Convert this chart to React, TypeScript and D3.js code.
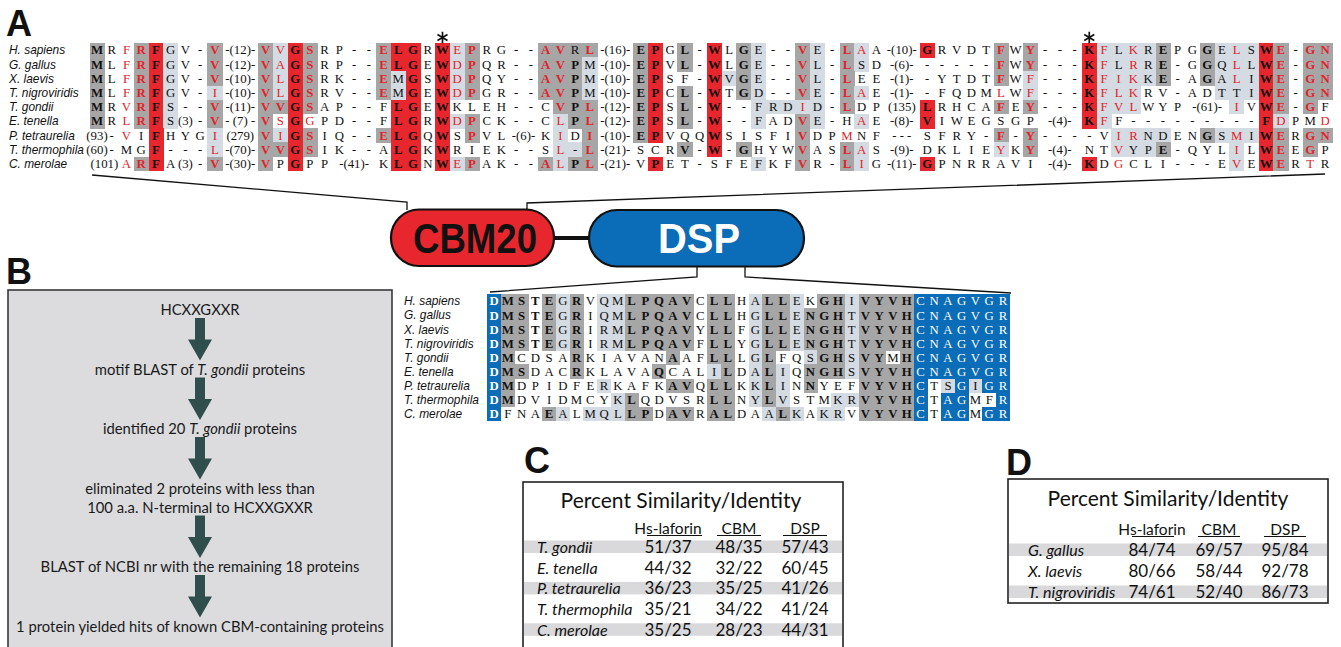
import React from "react";
import * as d3 from "d3";

// colours picked off the figure
const RED = "#e8262d";
const RED_TXT = "#e2232a";
const DARK = "#a6a6a6";
const LIGHT = "#d4dbe3";
const BLUE = "#0b6cb7";
const STRIPE = "#d9d9dc";
const ARROW = "#2f4e4c";

const SERIF = "'Liberation Serif', 'Times New Roman', serif";
const SANS = "'Liberation Sans', Arial, sans-serif";
const MYRIAD = "Lato, 'Open Sans', sans-serif";

const species = [
  "H. sapiens",
  "G. gallus",
  "X. laevis",
  "T. nigroviridis",
  "T. gondii",
  "E. tenella",
  "P. tetraurelia",
  "T. thermophila",
  "C. merolae",
];

// token[:bg fg span]  bg: . none, g dark, l light, r red, b blue ; fg: k/K black, r/R red, w/W white (caps = bold)
const cbmRows = [
  "M:gK R F:.r R:gR F:rK G:lk V - V:gR -(12)- V:gR V:lr G:rK S:gR R P - - E:gR L:rK G:rK R W:rK E:lr P:gR R G - - A:gR V:gR R:gk L:gR -(16)- E:gK P:rK G L:gK - W:rK L G:gK E:lk - - V:gR E:lk - L:gR A:lr A -(10)- G:rK R V D T F:gR W Y:gR - - - K:rK F:lr L:lk K:lr R:lk E:gK P G G:gK E:lk L:lr S:lk W:rK E:gR - G:gR N:gR",
  "M:gK L F:.r R:gR F:rK G:lk V - V:gR -(12)- V:gR A:lr G:rK S:gR R P - - E:gR L:rK G:rK E W:rK D:lr P:gR Q R - - A:gR V:gR P:gK M:lk -(10)- E:gK P:rK V L:gK - W:rK L G:gK E:lk - - V:gR L:lk - L:gR S:lk D -(6)- - - - - - F:gR W Y:gR - - - K:rK F:lr L:lk R:lr R:lk E:gK - G G:gK Q:lk L:lr L:lk W:rK E:gR - G:gR N:gR",
  "M:gK L F:.r R:gR F:rK G:lk V - V:gR -(10)- V:gR L:lr G:rK S:gR R K - - E:gR M:lk G:rK S W:rK D:lr P:gR Q Y - - A:gR V:gR P:gK M:lk -(10)- E:gK P:rK S F - W:rK V:lk G:gK E:lk - - V:gR L:lk - L:gR E E -(1)- - Y T D T F:gR W F:lr - - - K:rK F:lr I:lr K:lr K:lk E:gK - A G:gK A:lk L:lr I:lk W:rK E:gR - G:gR N:gR",
  "M:gK L F:.r R:gR F:rK G:lk V - I:lr -(10)- V:gR L:lr G:rK S:gR R V - - E:gR M:lk G:rK E W:rK D:lr P:gR G R - - A:gR V:gR P:gK M:lk -(10)- E:gK P:rK C L:gK - W:rK T G:gK D:lk - - V:gR E:lk - L:gR A:lr E -(1)- - F Q D M L:.r W F:lr - - - K:rK F:lr L:lr K:lr R V - A D T:lk T:lk I:lk W:rK E:gR - G:gR N:gR",
  "M:gK R V:.r R:gR F:rK S:lk - - V:gR -(11)- V:gR V:gR G:rK S:gR A P - - F L:rK G:rK E W:rK K L E H - - C V:gR P:gK L:gR -(12)- E:gK P:rK S L:gK - W:rK - - F:lk R:lk D:lk I:lr D:lk - L:gR D P (135) L:rK R H C A F:gR E Y:gR - - - K:rK F:lr V:lr L:lr W Y P -(61)-:.k3 I:lr V W:rK E:gR - G:gR F",
  "M:gK R L:.r R:gR F:rK S:lk (3) - V:gR -_(7)_- V:gR S:.r G:rK G:.r P D - - F L:rK G:rK R W:rK D:lr P:gR C K - - C L:lr P:gK L:gR -(12)- E:gK P:rK S L:gK - W:rK - - F:lk A D V:gR E:lk - H A:lr E -(8)- V:rK I W E G S G P -(4)-:.k3 K:rK F:lr F - - - - - - - - - F:rK D:lr P M D:.r",
  "(93) - V:.r I F:rK H Y G I:lr (279) V:gR I:lr G:rK S:gR I Q - - E:gR L:rK G:rK Q W:rK S P:gR V L -(6)-:.k2 K I:lr D I:gR -(10)- E:gK P:rK V Q Q W:rK S I S F I V:gR D P M:.r N F -_-_- S F R Y - F:gR - Y:gR - - - - V I:lr R:lr N:lk D:lk E N G:gK S:lk M:lr I:lk W:rK E:gR R G:gR N:gR",
  "(60) - M G F:rK - - - L:lr -(70)- V:gR V:gR G:rK S:gR I K - - A L:rK G:rK K W:rK R I E K - - S L:lr -:lk L:gR -(21)- S C R V:gK - W:rK - G:gK H Y W V:gR A S L:gR A:lr S -(9)- D K L I E Y:lr K Y:gR -(4)-:.k3 N T V:lr Y:lk P:lk E:gK - Q Y L I:lr L W:rK E:gR E G:gR P",
  "(101):.k2 A:.r R:gR F:rK A (3) - V:gR -(30)- V:gR P G:rK P P -(41)-:.k3 K L:rK G:rK N W:rK E:lr P:gR A K - - A:gR L:lr P:gK L:gR -(21)- V P:rK E T - S F E F:lk K F V:gR R - L:gR I:lr G -(11)- G:rK P N R R A V I -(4)-:.k3 K:rK D G:.r C L I - - - E V:lr E W:rK E:gR R T:.r R",
];
const cbmCols = 80;
const cbmWideCols = [9, 33, 51];
const cbmStarCols = [22, 63];

const dspRows = [
  "D:bW M:gK S:gK T:.K E:gK G:lk R:gK V Q:lk M:lk L:gK P:gK Q:gK A:gK V:gK C L:gK L:gK H A:lk L:gK L:gK E:lk K G:gK H:gK I:lk V:gK Y:gK V:gK H:gK C:bw N:bw A:bw G:bw V:bw G:bw R:bw",
  "D:bW M:gK S:gK T:.K E:gK G:lk R:gK I Q:lk M:lk L:gK P:gK Q:gK A:gK V:gK C L:gK L:gK H G:lk L:gK L:gK E:lk N:gK G:gK H:gK T:lk V:gK Y:gK V:gK H:gK C:bw N:bw A:bw G:bw V:bw G:bw R:bw",
  "D:bW M:gK S:gK T:.K E:gK G:lk R:gK I R:lk M:lk L:gK P:gK Q:gK A:gK V:gK Y L:gK L:gK F G:lk L:gK L:gK E:lk N:gK G:gK H:gK T:lk V:gK Y:gK V:gK H:gK C:bw N:bw A:bw G:bw V:bw G:bw R:bw",
  "D:bW M:gK S:gK T:.K E:gK G:lk R:gK I R:lk M:lk L:gK P:gK Q:gK A:gK V:gK F L:gK L:gK Y G:lk L:gK L:gK E:lk N:gK G:gK H:gK T:lk V:gK Y:gK V:gK H:gK C:bw N:bw A:bw G:bw V:bw G:bw R:bw",
  "D:bW M:gK C D S A R:gK K I A V A N A:gK A F L:gK L:gK L G:lk L:gK F Q S:lk G:gK H:gK S:lk V:gK Y:gK M H:gK C:bw N:bw A:bw G:bw V:bw G:bw R:bw",
  "D:bW M:gK S:gK D A C R:gK K L A V A Q:gK C A L I:lk L:gK D A:lk L:gK I:lk Q N:gK G:gK H:gK S:lk V:gK Y:gK V:gK H:gK C:bw N:bw A:bw G:bw V:bw G:bw R:bw",
  "D:bW M:gK D P I D F E R:lk K A F K A:gK V:gK Q L:gK L:gK K K:lk L:gK I:lk N N:gK Y E F V:gK Y:gK V:gK H:gK C:bw T S:lk G:bw I:lk G:bw R:bw",
  "D:bW M:gK D V I D M C Y K:lk L:gK Q D V S R L:gK L:gK N Y:lk L:gK V:lk S T M K:lk R:lk V:gK Y:gK V:gK H:gK C:bw T A:bw G:bw M F R:bw",
  "D:bW F N A E:gK A:lk L M:lk Q:lk L:lk L:gK P:gK D A:gK V:gK R A:gK L:gK D A A:lk L:gK K:lk A K:lk R:lk V V:gK Y:gK V:gK H:gK C:bw T A:bw G:bw M G:bw R:bw",
];
const dspCols = 38;

// panel B flow chart (*...* = italic)
const flowSteps = [
  ["HCXXGXXR"],
  ["motif BLAST of *T. gondii* proteins"],
  ["identified 20 *T. gondii* proteins"],
  ["eliminated 2 proteins with less than", "100 a.a. N-terminal to HCXXGXXR"],
  ["BLAST of NCBI nr with the remaining 18 proteins"],
  ["1 protein yielded hits of known CBM-containing proteins"],
];

// panel C
const cSpecies = ["T. gondii", "E. tenella", "P. tetraurelia", "T. thermophila", "C. merolae"];
const cLaforin = ["51/37", "44/32", "36/23", "35/21", "35/25"];
const cCbm = ["48/35", "32/22", "35/25", "34/22", "28/23"];
const cDsp = ["57/43", "60/45", "41/26", "41/24", "44/31"];

// panel D
const dSpecies = ["G. gallus", "X. laevis", "T. nigroviridis"];
const dLaforin = ["84/74", "80/66", "74/61"];
const dCbm = ["69/57", "58/44", "52/40"];
const dDsp = ["95/84", "92/78", "86/73"];

const headers = ["Hs-laforin", "CBM", "DSP"];

type Cell = { text: string; bg: string; fg: string; col: number; span: number };

function parseRow(row: string): Cell[] {
  let col = 0;
  return row
    .trim()
    .split(/\s+/)
    .map((tok) => {
      const i = tok.lastIndexOf(":");
      const text = (i < 0 ? tok : tok.slice(0, i)).replace(/_/g, " ");
      const code = i < 0 ? ".k" : tok.slice(i + 1);
      const span = code.length > 2 ? +code[2] : 1;
      const cell = { text, bg: code[0], fg: code[1], col, span };
      col += span;
      return cell;
    });
}

const bgFill: Record<string, string> = { g: DARK, l: LIGHT, r: RED, b: BLUE };
const fgFill = (fg: string) => {
  const f = fg.toLowerCase();
  return f === "r" ? RED_TXT : f === "w" ? "#fff" : "#111";
};

// six-armed asterisk used to flag conserved residues
const starPath = (cx: number, cy: number, r: number) =>
  [90, 30, -30]
    .map((deg) => {
      const a = (deg * Math.PI) / 180;
      const dx = r * Math.cos(a);
      const dy = r * Math.sin(a);
      return `M${cx - dx},${cy - dy}L${cx + dx},${cy + dy}`;
    })
    .join("");

function Alignment(props: {
  rows: string[];
  nCols: number;
  wide: number[];
  wideW: number;
  xFirst: number;
  xLast: number;
  yFirst: number;
  rowH: number;
  nameX: number;
  stars?: number[];
}) {
  const { rows, nCols, wide, wideW, xFirst, xLast, yFirst, rowH, nameX, stars = [] } = props;
  const edges = [0];
  for (let c = 0; c < nCols; c++) edges.push(edges[c] + (wide.includes(c) ? wideW : 1));
  const x = d3
    .scaleLinear()
    .domain([(edges[0] + edges[1]) / 2, (edges[nCols - 1] + edges[nCols]) / 2])
    .range([xFirst, xLast]);
  const y = d3.scaleLinear().domain([0, 1]).range([yFirst, yFirst + rowH]);
  const parsed = rows.map(parseRow);

  return (
    <g>
      {species.map((s, i) => (
        <text key={s} x={nameX} y={y(i) + 4.3} fontFamily={SANS} fontStyle="italic" fontSize={11.9} fill="#111">
          {s}
        </text>
      ))}
      <g shapeRendering="crispEdges">
        {parsed.map((cells, r) =>
          cells
            .filter((c) => c.bg !== ".")
            .map((c) => (
              <rect
                key={`${r}-${c.col}`}
                x={x(edges[c.col])}
                y={y(r) - rowH / 2}
                width={x(edges[c.col + c.span]) - x(edges[c.col]) + 0.4}
                height={rowH + 0.4}
                fill={bgFill[c.bg]}
              />
            ))
        )}
      </g>
      {parsed.map((cells, r) =>
        cells.map((c) => (
          <text
            key={`t${r}-${c.col}`}
            x={(x(edges[c.col]) + x(edges[c.col + c.span])) / 2}
            y={y(r) + 4.4}
            textAnchor="middle"
            fontFamily={SERIF}
            fontSize={12.8}
            fontWeight={c.fg === c.fg.toUpperCase() ? "bold" : "normal"}
            fill={fgFill(c.fg)}
          >
            {c.text}
          </text>
        ))
      )}
      {stars.map((c) => (
        <path
          key={`s${c}`}
          d={starPath(x((edges[c] + edges[c + 1]) / 2), yFirst - 12.5, 5.8)}
          stroke="#111"
          strokeWidth={1.7}
          fill="none"
        />
      ))}
    </g>
  );
}

function RichText({ s }: { s: string }) {
  return (
    <>
      {s.split("*").map((part, i) => (
        <tspan key={i} fontStyle={i % 2 ? "italic" : "normal"}>
          {part}
        </tspan>
      ))}
    </>
  );
}

function FlowChart() {
  const cx = 200;
  const lineY: number[][] = [];
  let cursor = 310;
  flowSteps.forEach((lines) => {
    lineY.push(lines.map((_, j) => cursor + j * 19));
    cursor = lineY[lineY.length - 1][lines.length - 1] + 59.5;
  });
  const arrow = (top: number, tip: number) => {
    const sw = 5;
    const hw = 12;
    const hl = 21;
    return `M${cx - sw},${top} L${cx + sw},${top} L${cx + sw},${tip - hl} L${cx + hw},${tip - hl} L${cx},${tip} L${cx - hw},${tip - hl} L${cx - sw},${tip - hl} Z`;
  };
  return (
    <g>
      <rect x={8} y={290} width={384} height={380} fill="#dcdcdf" stroke="#3a3a3a" strokeWidth={1.6} />
      {flowSteps.map((lines, i) =>
        lines.map((l, j) => (
          <text key={`${i}-${j}`} x={cx} y={lineY[i][j] + 5.2} textAnchor="middle" fontFamily={MYRIAD} fontSize={14.8} fill="#1a1a1a">
            <RichText s={l} />
          </text>
        ))
      )}
      {flowSteps.slice(1).map((_, i) => {
        const prev = lineY[i][lineY[i].length - 1];
        const next = lineY[i + 1][0];
        return <path key={`a${i}`} d={arrow(prev + 8, next - 9)} fill={ARROW} />;
      })}
    </g>
  );
}

function SimTable(props: {
  box: [number, number, number, number];
  label: string;
  labelX: number;
  labelY: number;
  titleX: number;
  titleY: number;
  headY: number;
  colX: number[];
  underline: [number, number][];
  rowY0: number;
  rowDy: number;
  nameX: number;
  names: string[];
  cols: string[][];
}) {
  const { box, label, labelX, labelY, titleX, titleY, headY, colX, underline, rowY0, rowDy, nameX, names, cols } = props;
  const [bx, by, bw, bh] = box;
  const y = d3.scaleLinear().domain([0, 1]).range([rowY0, rowY0 + rowDy]);
  return (
    <g>
      <text x={labelX} y={labelY} fontFamily={SANS} fontWeight="bold" fontSize={36} fill="#111">
        {label}
      </text>
      <rect x={bx} y={by} width={bw} height={bh} fill="#fff" stroke="#222" strokeWidth={1.6} />
      {names.map((_, i) =>
        i % 2 === 0 ? <rect key={`st${i}`} x={bx + 1} y={y(i) - 6.5} width={bw - 2} height={12.5} fill={STRIPE} /> : null
      )}
      <text x={titleX} y={titleY + 7.5} textAnchor="middle" fontFamily={MYRIAD} fontSize={21} fill="#111">
        Percent Similarity/Identity
      </text>
      {headers.map((h, k) => (
        <text key={h} x={colX[k]} y={headY + 5.5} textAnchor="middle" fontFamily={MYRIAD} fontSize={15.5} fill="#111">
          {h}
        </text>
      ))}
      {underline.map(([a, b], k) => (
        <line key={`u${k}`} x1={a} x2={b} y1={headY + 7.5} y2={headY + 7.5} stroke="#111" strokeWidth={1.1} />
      ))}
      {names.map((n, i) => (
        <g key={n}>
          <text x={nameX} y={y(i) + 6} fontFamily={MYRIAD} fontStyle="italic" fontSize={16} fill="#111">
            {n}
          </text>
          {cols.map((c, k) => (
            <text key={k} x={colX[k]} y={y(i) + 6} textAnchor="middle" fontFamily={MYRIAD} fontSize={17} fill="#111">
              {c[i]}
            </text>
          ))}
        </g>
      ))}
    </g>
  );
}

function Domains() {
  return (
    <g>
      <polyline points="92,175 407,202 407,210" fill="none" stroke="#111" strokeWidth={1.3} />
      <polyline points="527,210 527,203 1325,174" fill="none" stroke="#111" strokeWidth={1.3} />
      <polyline points="697,266 697,277 490,292" fill="none" stroke="#111" strokeWidth={1.3} />
      <polyline points="745,266 745,277 1011,293" fill="none" stroke="#111" strokeWidth={1.3} />
      <line x1={553} x2={590} y1={238} y2={238} stroke="#111" strokeWidth={4} />
      <rect x={391} y={209.5} width={163} height={56.5} rx={28} fill={RED} stroke="#111" strokeWidth={2.2} />
      <rect x={589} y={210} width={215} height={56.5} rx={28} fill={BLUE} stroke="#111" strokeWidth={2.2} />
      <text
        x={475}
        y={253}
        textAnchor="middle"
        fontFamily="'Liberation Sans Narrow', 'Liberation Sans', Arial, sans-serif"
        fontWeight="bold"
        fontSize={42}
        textLength={124}
        lengthAdjust="spacingAndGlyphs"
        fill="#111"
      >
        CBM20
      </text>
      <text
        x={699}
        y={253}
        textAnchor="middle"
        fontFamily="'Liberation Sans Narrow', 'Liberation Sans', Arial, sans-serif"
        fontWeight="bold"
        fontSize={42}
        textLength={82}
        lengthAdjust="spacingAndGlyphs"
        fill="#fff"
      >
        DSP
      </text>
    </g>
  );
}

export default function App() {
  return (
    <svg
      width={1341}
      height={647}
      viewBox="0 0 1341 647"
      style={{ position: "absolute", left: 0, top: 0, background: "#fff" }}
    >
      <rect x={0} y={0} width={1341} height={647} fill="#fff" />
      <text x={6} y={36} fontFamily={SANS} fontWeight="bold" fontSize={36} fill="#111">
        A
      </text>
      <text x={6} y={284} fontFamily={SANS} fontWeight="bold" fontSize={36} fill="#111">
        B
      </text>
      <Alignment
        rows={cbmRows}
        nCols={cbmCols}
        wide={cbmWideCols}
        wideW={2.45}
        xFirst={97}
        xLast={1325}
        yFirst={50}
        rowH={14.2}
        nameX={9}
        stars={cbmStarCols}
      />
      <Domains />
      <Alignment rows={dspRows} nCols={dspCols} wide={[]} wideW={1} xFirst={494} xLast={1003} yFirst={301} rowH={14.1} nameX={404} />
      <FlowChart />
      <SimTable
        box={[523, 482, 320, 190]}
        label="C"
        labelX={524}
        labelY={473}
        titleX={681}
        titleY={500}
        headY={528}
        colX={[668, 739, 805]}
        underline={[
          [647, 702],
          [717, 761],
          [783, 827],
        ]}
        rowY0={547}
        rowDy={20.7}
        nameX={537}
        names={cSpecies}
        cols={[cLaforin, cCbm, cDsp]}
      />
      <SimTable
        box={[1008, 479, 320, 124]}
        label="D"
        labelX={1006}
        labelY={475}
        titleX={1168}
        titleY={498}
        headY={529}
        colX={[1152, 1219, 1285]}
        underline={[
          [1132, 1174],
          [1198, 1240],
          [1264, 1306],
        ]}
        rowY0={550}
        rowDy={21}
        nameX={1028}
        names={dSpecies}
        cols={[dLaforin, dCbm, dDsp]}
      />
    </svg>
  );
}
